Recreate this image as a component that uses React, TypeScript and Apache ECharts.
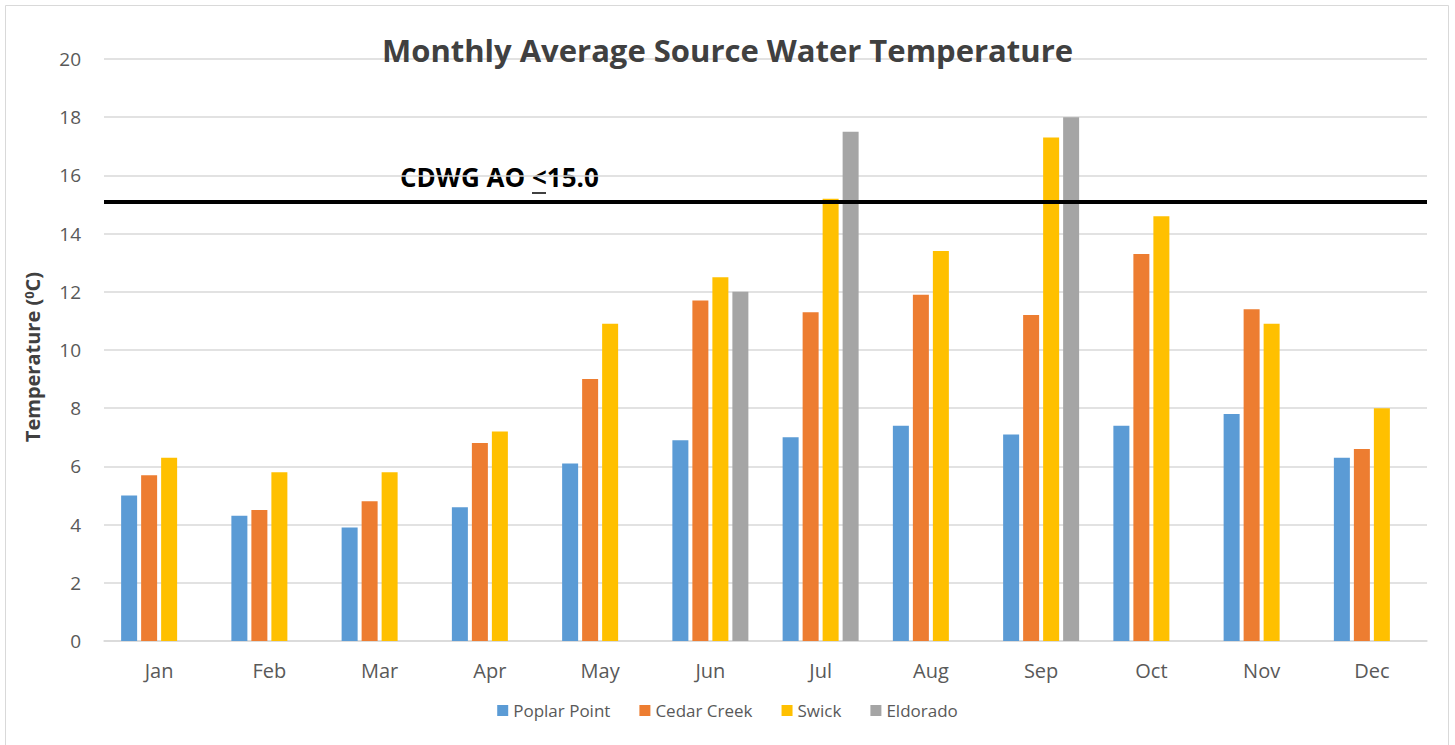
import React, { useEffect, useRef } from "react";
import * as echarts from "echarts";

const months = ["Jan", "Feb", "Mar", "Apr", "May", "Jun", "Jul", "Aug", "Sep", "Oct", "Nov", "Dec"];
const poplarPoint = [5.0, 4.3, 3.9, 4.6, 6.1, 6.9, 7.0, 7.4, 7.1, 7.4, 7.8, 6.3];
const cedarCreek = [5.7, 4.5, 4.8, 6.8, 9.0, 11.7, 11.3, 11.9, 11.2, 13.3, 11.4, 6.6];
const swick = [6.3, 5.8, 5.8, 7.2, 10.9, 12.5, 15.2, 13.4, 17.3, 14.6, 10.9, 8.0];
const eldorado = [null, null, null, null, null, 12.0, 17.5, null, 18.0, null, null, null];
const yTicks = [0, 2, 4, 6, 8, 10, 12, 14, 16, 18, 20];
const guideline = 15.1;

const FONT = "Open Sans";

export default function App() {
  const ref = useRef<HTMLDivElement>(null);
  useEffect(() => {
    if (!ref.current) return;
    const chart = echarts.init(ref.current, undefined, { renderer: "svg" });
    const mk = (name: string, data: (number | null)[], color: string) => ({
      name,
      type: "bar",
      data,
      barWidth: 16,
      barGap: "25%",
      itemStyle: { color },
      emphasis: { disabled: true },
    });
    const series: any[] = [
      mk("Poplar Point", poplarPoint, "#5B9BD5"),
      mk("Cedar Creek", cedarCreek, "#ED7D31"),
      mk("Swick", swick, "#FFC000"),
      mk("Eldorado", eldorado, "#A5A5A5"),
    ];
    series[0].markLine = {
      symbol: "none",
      silent: true,
      label: { show: false },
      lineStyle: { color: "#000000", width: 4, type: "solid" },
      data: [{ yAxis: guideline }],
    };
    chart.setOption({
      animation: false,
      textStyle: { fontFamily: FONT },
      title: {
        text: "Monthly Average Source Water Temperature",
        left: "center",
        top: 29,
        textStyle: { fontFamily: FONT, fontSize: 31, fontWeight: "bold", color: "#404040" },
      },
      legend: {
        bottom: 21,
        left: "center",
        itemWidth: 11,
        itemHeight: 11,
        itemGap: 29,
        icon: "rect",
        textStyle: { fontFamily: FONT, fontSize: 17, color: "#595959" },
        data: ["Poplar Point", "Cedar Creek", "Swick", "Eldorado"],
      },
      grid: { left: 104, right: 28, top: 59, bottom: 104, containLabel: false },
      xAxis: {
        type: "category",
        data: months,
        axisTick: { show: false },
        axisLine: { show: true, lineStyle: { color: "#D9D9D9", width: 1.5 } },
        axisLabel: { fontFamily: FONT, fontSize: 20, color: "#595959", margin: 19 },
      },
      yAxis: {
        type: "value",
        min: yTicks[0],
        max: yTicks[yTicks.length - 1],
        interval: 2,
        name: "Temperature ({sup|0}C)",
        nameLocation: "middle",
        nameGap: 61,
        nameTextStyle: {
          fontFamily: FONT,
          fontSize: 20,
          fontWeight: "bold",
          color: "#404040",
          padding: [0, 14, 0, 0],
          rich: {
            sup: { fontFamily: FONT, fontSize: 13, fontWeight: "bold", color: "#404040", verticalAlign: "top", padding: [0, 0, 8, 0] },
          },
        },
        axisLine: { show: false },
        axisTick: { show: false },
        axisLabel: { fontFamily: FONT, fontSize: 19, color: "#595959", margin: 23 },
        splitLine: { lineStyle: { color: "#D9D9D9", width: 1.5 } },
      },
      graphic: [
        {
          type: "rect",
          silent: true,
          shape: { x: 5.5, y: 5.5, width: 1443, height: 760 },
          style: { fill: "none", stroke: "#D9D9D9", lineWidth: 1 },
        },
        {
          type: "text",
          left: 400,
          top: 164,
          style: { text: "CDWG AO <15.0", fontFamily: FONT, fontSize: 26, fontWeight: "bold", fill: "#000000" },
        },
        {
          type: "line",
          silent: true,
          shape: { x1: 532, y1: 193, x2: 546, y2: 193 },
          style: { stroke: "#000000", lineWidth: 1.5 },
        },
      ],
      series,
    });
    return () => chart.dispose();
  }, []);
  return (
    <div
      ref={ref}
      style={{ position: "absolute", left: 0, top: 0, width: 1455, height: 745, background: "#ffffff" }}
    />
  );
}
